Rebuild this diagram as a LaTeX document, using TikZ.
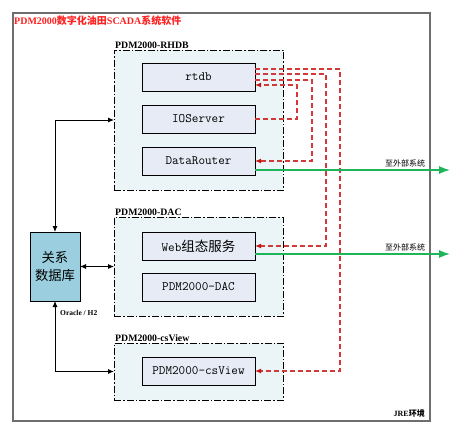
\documentclass[tikz,border=0pt]{standalone}
\usepackage{fontspec}
\setmainfont{Liberation Serif}
\newfontfamily\cjk{Noto Sans CJK SC}
\newfontfamily\monofont{Latin Modern Mono}
\usepackage{tikz}
\usetikzlibrary{calc}
\usetikzlibrary{arrows.meta}
\usetikzlibrary{positioning}
\definecolor{framegray}{HTML}{6E6E6E}
\definecolor{titlered}{HTML}{FF2020}
\definecolor{groupfill}{HTML}{EBF5F8}
\definecolor{modfill}{HTML}{E6EBF6}
\definecolor{dbfill}{HTML}{9BCFDF}
\definecolor{syncred}{HTML}{D23A3A}
\definecolor{tipred}{HTML}{C41414}
\definecolor{exportgreen}{HTML}{1EB45A}
\tikzset{group/.style={rectangle,draw=black,fill=groupfill,line width=0.9pt,dash pattern=on 7pt off 2pt on 1.5pt off 2pt,minimum width=169pt,inner sep=0pt,outer sep=0pt}}
\tikzset{grouplabel/.style={anchor=south west,inner sep=1pt,font=\bfseries\fontsize{9.8}{10}\selectfont}}
\tikzset{module/.style={rectangle,draw=black,fill=modfill,line width=1pt,minimum width=113pt,minimum height=28pt,inner sep=0pt,outer sep=0pt,font=\monofont\fontsize{12.8}{13}\selectfont}}
\tikzset{database/.style={rectangle,draw=black,fill=dbfill,line width=1pt,minimum width=50pt,minimum height=69pt,inner sep=0pt,outer sep=0pt,align=center,font=\cjk\fontsize{13.3}{17.3}\selectfont}}
\tikzset{link/.style={draw=black,line width=0.9pt,{Latex[length=6pt,width=5pt]}-{Latex[length=6pt,width=5pt]}}}
\tikzset{sync/.style={draw=syncred,line width=1.5pt,dash pattern=on 5pt off 3pt,-{Latex[length=6pt,width=5pt,color=tipred,fill=tipred]}}}
\tikzset{export/.style={draw=exportgreen,line width=1.4pt,-{Latex[length=11pt,width=8pt]}}}
\tikzset{exportlabel/.style={above,inner sep=2pt,font=\cjk\fontsize{8}{9}\selectfont}}

\begin{document}
\begin{tikzpicture}[x=1pt,y=-1pt]
\useasboundingbox (0,0) rectangle (450,431);
\draw[draw=framegray,line width=1.5pt] (13,13) rectangle (430,421);
\node[anchor=west,inner sep=0pt,text=titlered,font=\bfseries\fontsize{10}{12}\selectfont] (title) at (14,21) {PDM2000{\cjk 数字化油田}SCADA{\cjk 系统软件}};

% real-time database group
\node[group,minimum height=140pt] (rhdb) at (198.5,120) {};
\node[grouplabel] (rhdblabel) at (rhdb.north west) {PDM2000-RHDB};
\node[module] (rtdb) at (198.5,77) {rtdb};
\node[module,below=14pt of rtdb] (ioserver) {IOServer};
\node[module,below=14pt of ioserver] (router) {DataRouter};

% data access group
\node[group,minimum height=99pt] (dac) at (198.5,266.5) {};
\node[grouplabel] (daclabel) at (dac.north west) {PDM2000-DAC};
\node[module] (web) at (198.5,246) {Web{\cjk\fontsize{13.5}{14}\selectfont 组态服务}};
\node[module,below=13pt of web] (dacmod) {PDM2000-DAC};

% client view group
\node[group,minimum height=57pt] (csview) at (198.5,371.5) {};
\node[grouplabel] (csviewlabel) at (csview.north west) {PDM2000-csView};
\node[module] (csvmod) at (198.5,371) {PDM2000-csView};

\node[database] (db) at (55,266.5) {关系\\数据库};
\node[anchor=west,inner sep=0pt,font=\bfseries\fontsize{7.5}{8}\selectfont] (oracle) at (60,312.7) {Oracle / H2};
\node[anchor=east,inner sep=0pt,font=\bfseries\fontsize{8}{9}\selectfont] (jre) at (425,413) {JRE{\cjk 环境}};

\draw[link] (db.north) |- (rhdb.west);
\draw[link] (db.east) -- (dac.west);
\draw[link] (db.south) |- (csview.west);

\draw[sync] ([yshift=8pt]rtdb.east) -- ++(85,0) |- (csvmod.east);
\draw[sync] ([yshift=3pt]rtdb.east) -- ++(71,0) |- (web.east);
\draw[sync] ([yshift=-3pt]rtdb.east) -- ++(57,0) |- (router.east);
\draw[sync] (ioserver.east) -- ++(42,0) |- ([yshift=-8pt]rtdb.east);

\coordinate (extA) at (450,170);
\coordinate (extB) at (450,254);
\draw[export] ([yshift=-9pt]router.east) -- node[exportlabel,pos=0.77] {至外部系统} (extA);
\draw[export] ([yshift=-8pt]web.east) -- node[exportlabel,pos=0.77] {至外部系统} (extB);
\end{tikzpicture}
\end{document}
